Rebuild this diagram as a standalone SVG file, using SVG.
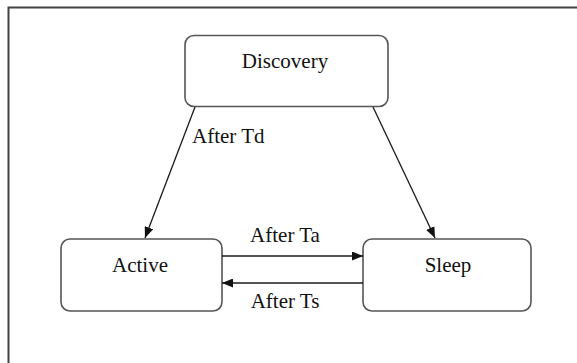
<svg xmlns="http://www.w3.org/2000/svg" width="577" height="363" viewBox="0 0 577 363">
<style>
.node rect{fill:#fff;stroke:#555;stroke-width:1.6}
text{font-family:"Liberation Serif","Times New Roman",serif;font-size:21px;fill:#111}
.conn line{stroke:#1a1a1a;stroke-width:1.3}
</style>
<defs>
<marker id="ah" markerUnits="userSpaceOnUse" markerWidth="11" markerHeight="9" refX="11" refY="4.5" orient="auto">
<path d="M0,0 L11,4.5 L0,9 Z" fill="#111"/>
</marker>
</defs>
<rect width="577" height="363" fill="#fff"/>
<path d="M8.5,363 V7.5 H577" fill="none" stroke="#444" stroke-width="2"/>
<g id="discovery" class="node">
<rect x="185" y="35.5" width="203" height="71" rx="9"/>
<text x="285" y="68" text-anchor="middle">Discovery</text>
</g>
<g id="active" class="node">
<rect x="61" y="239" width="161" height="72" rx="9"/>
<text x="140" y="272" text-anchor="middle">Active</text>
</g>
<g id="sleep" class="node">
<rect x="363" y="239" width="168" height="72" rx="9"/>
<text x="448" y="272" text-anchor="middle">Sleep</text>
</g>
<g id="connectors" class="conn">
<line x1="195" y1="107" x2="145" y2="238" marker-end="url(#ah)"/>
<line x1="373" y1="107" x2="435" y2="238" marker-end="url(#ah)"/>
<line x1="222" y1="256" x2="363" y2="256" marker-end="url(#ah)"/>
<line x1="363" y1="283" x2="222" y2="283" marker-end="url(#ah)"/>
<text x="192" y="143">After Td</text>
<text x="285" y="242" text-anchor="middle">After Ta</text>
<text x="285" y="308" text-anchor="middle">After Ts</text>
</g>
</svg>
